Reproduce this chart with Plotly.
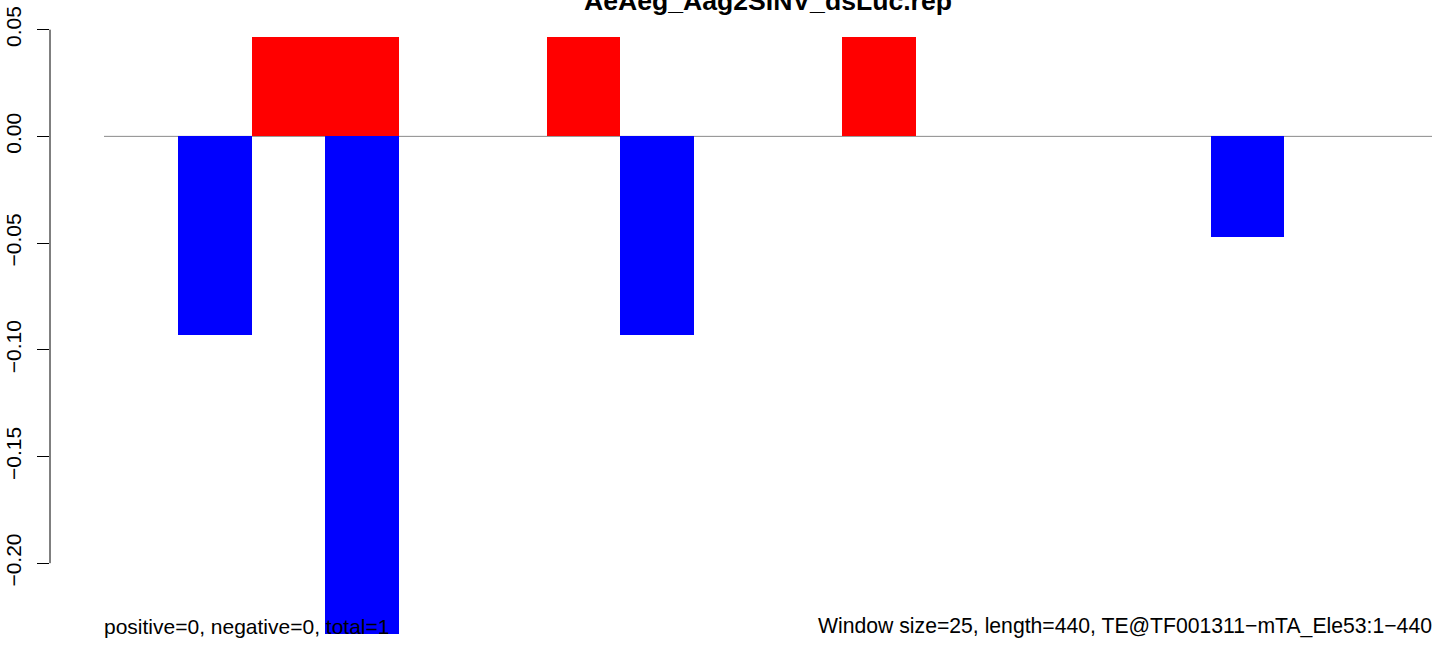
import plotly.graph_objects as go

# ---- data (window start positions in bp, window size 25) ----
window_starts = [0, 25, 50, 75, 100, 125, 150, 175, 200, 225,
                 250, 275, 300, 325, 350, 375, 400, 425]
positive_vals = [0, 0, 0.0465, 0.0465, 0, 0, 0.0465, 0, 0, 0,
                 0.0465, 0, 0, 0, 0, 0, 0, 0]
negative_vals = [0, -0.093, 0, -0.233, 0, 0, 0, -0.093, 0, 0,
                 0, 0, 0, 0, 0, -0.047, 0, 0]
window_size = 25
x_end = 450
tick_vals = [0.05, 0.00, -0.05, -0.10, -0.15, -0.20]
tick_text = ["0.05", "0.00", "\u22120.05", "\u22120.10", "\u22120.15", "\u22120.20"]
title_text = "AeAeg_Aag2SINV_dsLuc.rep"
left_note = "positive=0, negative=0, total=1"
right_note = "Window size=25, length=440, TE@TF001311\u2212mTA_Ele53:1\u2212440"

FONT = "Liberation Sans, Arial, Helvetica, sans-serif"

fig = go.Figure()
fig.add_trace(go.Bar(
    x=[s + window_size / 2 for s in window_starts], y=positive_vals,
    width=window_size, marker=dict(color="#ff0000", line=dict(width=0)),
    showlegend=False, hoverinfo="skip"))
fig.add_trace(go.Bar(
    x=[s + window_size / 2 for s in window_starts], y=negative_vals,
    width=window_size, marker=dict(color="#0000ff", line=dict(width=0)),
    showlegend=False, hoverinfo="skip"))

# zero reference line
fig.add_shape(type="line", xref="x", yref="y", x0=0, x1=x_end, y0=0, y1=0,
              line=dict(color="#8a8a8a", width=1), layer="below")
# y axis line spanning first to last tick (R style)
fig.add_shape(type="line", xref="paper", yref="y", x0=0, x1=0,
              y0=min(tick_vals), y1=max(tick_vals),
              line=dict(color="black", width=1))

fig.add_annotation(text="<b>" + title_text + "</b>", xref="x", yref="paper",
                   x=x_end / 2, y=1, xanchor="center", yanchor="middle",
                   yshift=-1, showarrow=False,
                   font=dict(family=FONT, size=26.6, color="black"))
fig.add_annotation(text=left_note, xref="x", yref="paper", x=0, y=0,
                   xanchor="left", yanchor="middle", yshift=20, xshift=-2,
                   showarrow=False, font=dict(family=FONT, size=21, color="black"))
fig.add_annotation(text=right_note, xref="x", yref="paper", x=x_end, y=0,
                   xanchor="right", yanchor="middle", yshift=20, xshift=2,
                   showarrow=False, font=dict(family=FONT, size=21.2, color="black"))

fig.update_layout(
    width=1444, height=646, autosize=False,
    margin=dict(l=50, r=12, t=0, b=0, pad=0),
    paper_bgcolor="white", plot_bgcolor="white",
    barmode="overlay", bargap=0,
    font=dict(family=FONT, size=21, color="black"),
    xaxis=dict(range=[-18.3, x_end], visible=False, showgrid=False, zeroline=False),
    yaxis=dict(range=[-0.2388, 0.0639], showgrid=False, zeroline=False,
               showline=False, ticks="outside", ticklen=12, tickwidth=1,
               tickcolor="black", tickvals=tick_vals, ticktext=tick_text,
               tickangle=-90, ticklabelstandoff=8,
               tickfont=dict(family=FONT, size=21, color="black")),
)

fig.write_html("out.html", config={"displayModeBar": False},
               post_script="document.body.style.margin='0';document.body.style.overflow='hidden';")
